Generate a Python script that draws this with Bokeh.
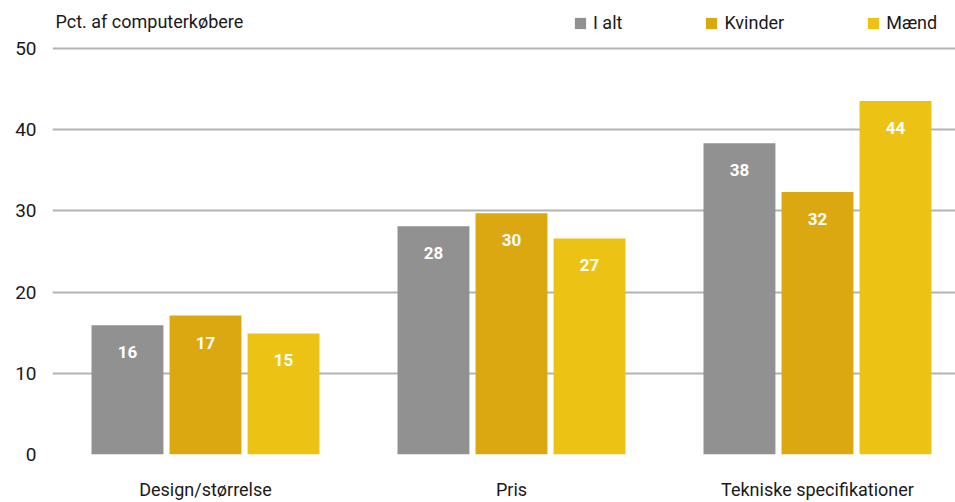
from bokeh.plotting import figure
from bokeh.models import ColumnDataSource, Legend, LegendItem, Label, FixedTicker, Range1d
from bokeh.embed import file_html
from bokeh.resources import INLINE
from bokeh.core.properties import value
from bokeh.transform import dodge

categories = ["Design/størrelse", "Pris", "Tekniske specifikationer"]
series_names = ["I alt", "Kvinder", "Mænd"]
i_alt = [15.9, 28.1, 38.3]
kvinder = [17.1, 29.7, 32.3]
maend = [14.9, 26.6, 43.5]
y_ticks = [0, 10, 20, 30, 40, 50]
y_title = "Pct. af computerkøbere"
colors = ["#919191", "#dca812", "#ecc215"]

FONT = "Roboto"
TXT = "#1a1a1a"

xs = list(range(len(categories)))
src = ColumnDataSource(dict(
    x=xs,
    s0=i_alt, s1=kvinder, s2=maend,
    l0=[str(int(v + 0.5)) for v in i_alt],
    l1=[str(int(v + 0.5)) for v in kvinder],
    l2=[str(int(v + 0.5)) for v in maend],
))

p = figure(width=955, height=502, output_backend="svg", toolbar_location=None,
           x_range=Range1d(-0.5, 2.451), y_range=Range1d(0, 54.9),
           min_border_left=52, min_border_right=0, min_border_top=8, min_border_bottom=45)
p.outline_line_color = None
p.xgrid.grid_line_color = None
p.ygrid.ticker = FixedTicker(ticks=y_ticks)
p.ygrid.grid_line_color = "#b3b3b3"
p.ygrid.grid_line_width = 2

p.yaxis.ticker = FixedTicker(ticks=y_ticks)
p.yaxis.axis_line_color = None
p.yaxis.major_tick_line_color = None
p.yaxis.minor_tick_line_color = None
p.yaxis.major_tick_out = 0
p.yaxis.major_label_standoff = 16
p.yaxis.major_label_text_font = FONT
p.yaxis.major_label_text_font_size = "19px"
p.yaxis.major_label_text_color = TXT

p.xaxis.ticker = FixedTicker(ticks=xs)
p.xaxis.major_label_overrides = {i: c for i, c in enumerate(categories)}
p.xaxis.axis_line_color = None
p.xaxis.major_tick_line_color = None
p.xaxis.minor_tick_line_color = None
p.xaxis.major_tick_out = 0
p.xaxis.major_label_standoff = 24
p.xaxis.major_label_text_font = FONT
p.xaxis.major_label_text_font_size = "18px"
p.xaxis.major_label_text_color = TXT

offsets = [-0.255, 0.0, 0.255]
items = []
for k in range(3):
    r = p.vbar(x=dodge("x", offsets[k], range=p.x_range), top="s%d" % k, width=0.235,
               source=src, fill_color=colors[k], line_color=None)
    p.text(x=dodge("x", offsets[k], range=p.x_range), y="s%d" % k, text="l%d" % k, source=src,
           text_align="center", text_baseline="middle", y_offset=27,
           text_color="white", text_font=value(FONT), text_font_style="bold",
           text_font_size="17px")
    items.append(LegendItem(label=series_names[k], renderers=[r]))

legend = Legend(items=items, orientation="horizontal", location=(521, 421),
                spacing=82, glyph_width=14, glyph_height=14, label_standoff=6,
                label_height=14, padding=0, margin=0, border_line_color=None,
                background_fill_alpha=0, label_text_font=FONT,
                label_text_font_size="18px", label_text_color=TXT)
p.add_layout(legend)

p.add_layout(Label(x=-0.49, y=53.3, text=y_title, text_baseline="middle",
                   text_font=FONT, text_font_size="18px", text_color=TXT))

open("out.html", "w").write(file_html(p, INLINE))
